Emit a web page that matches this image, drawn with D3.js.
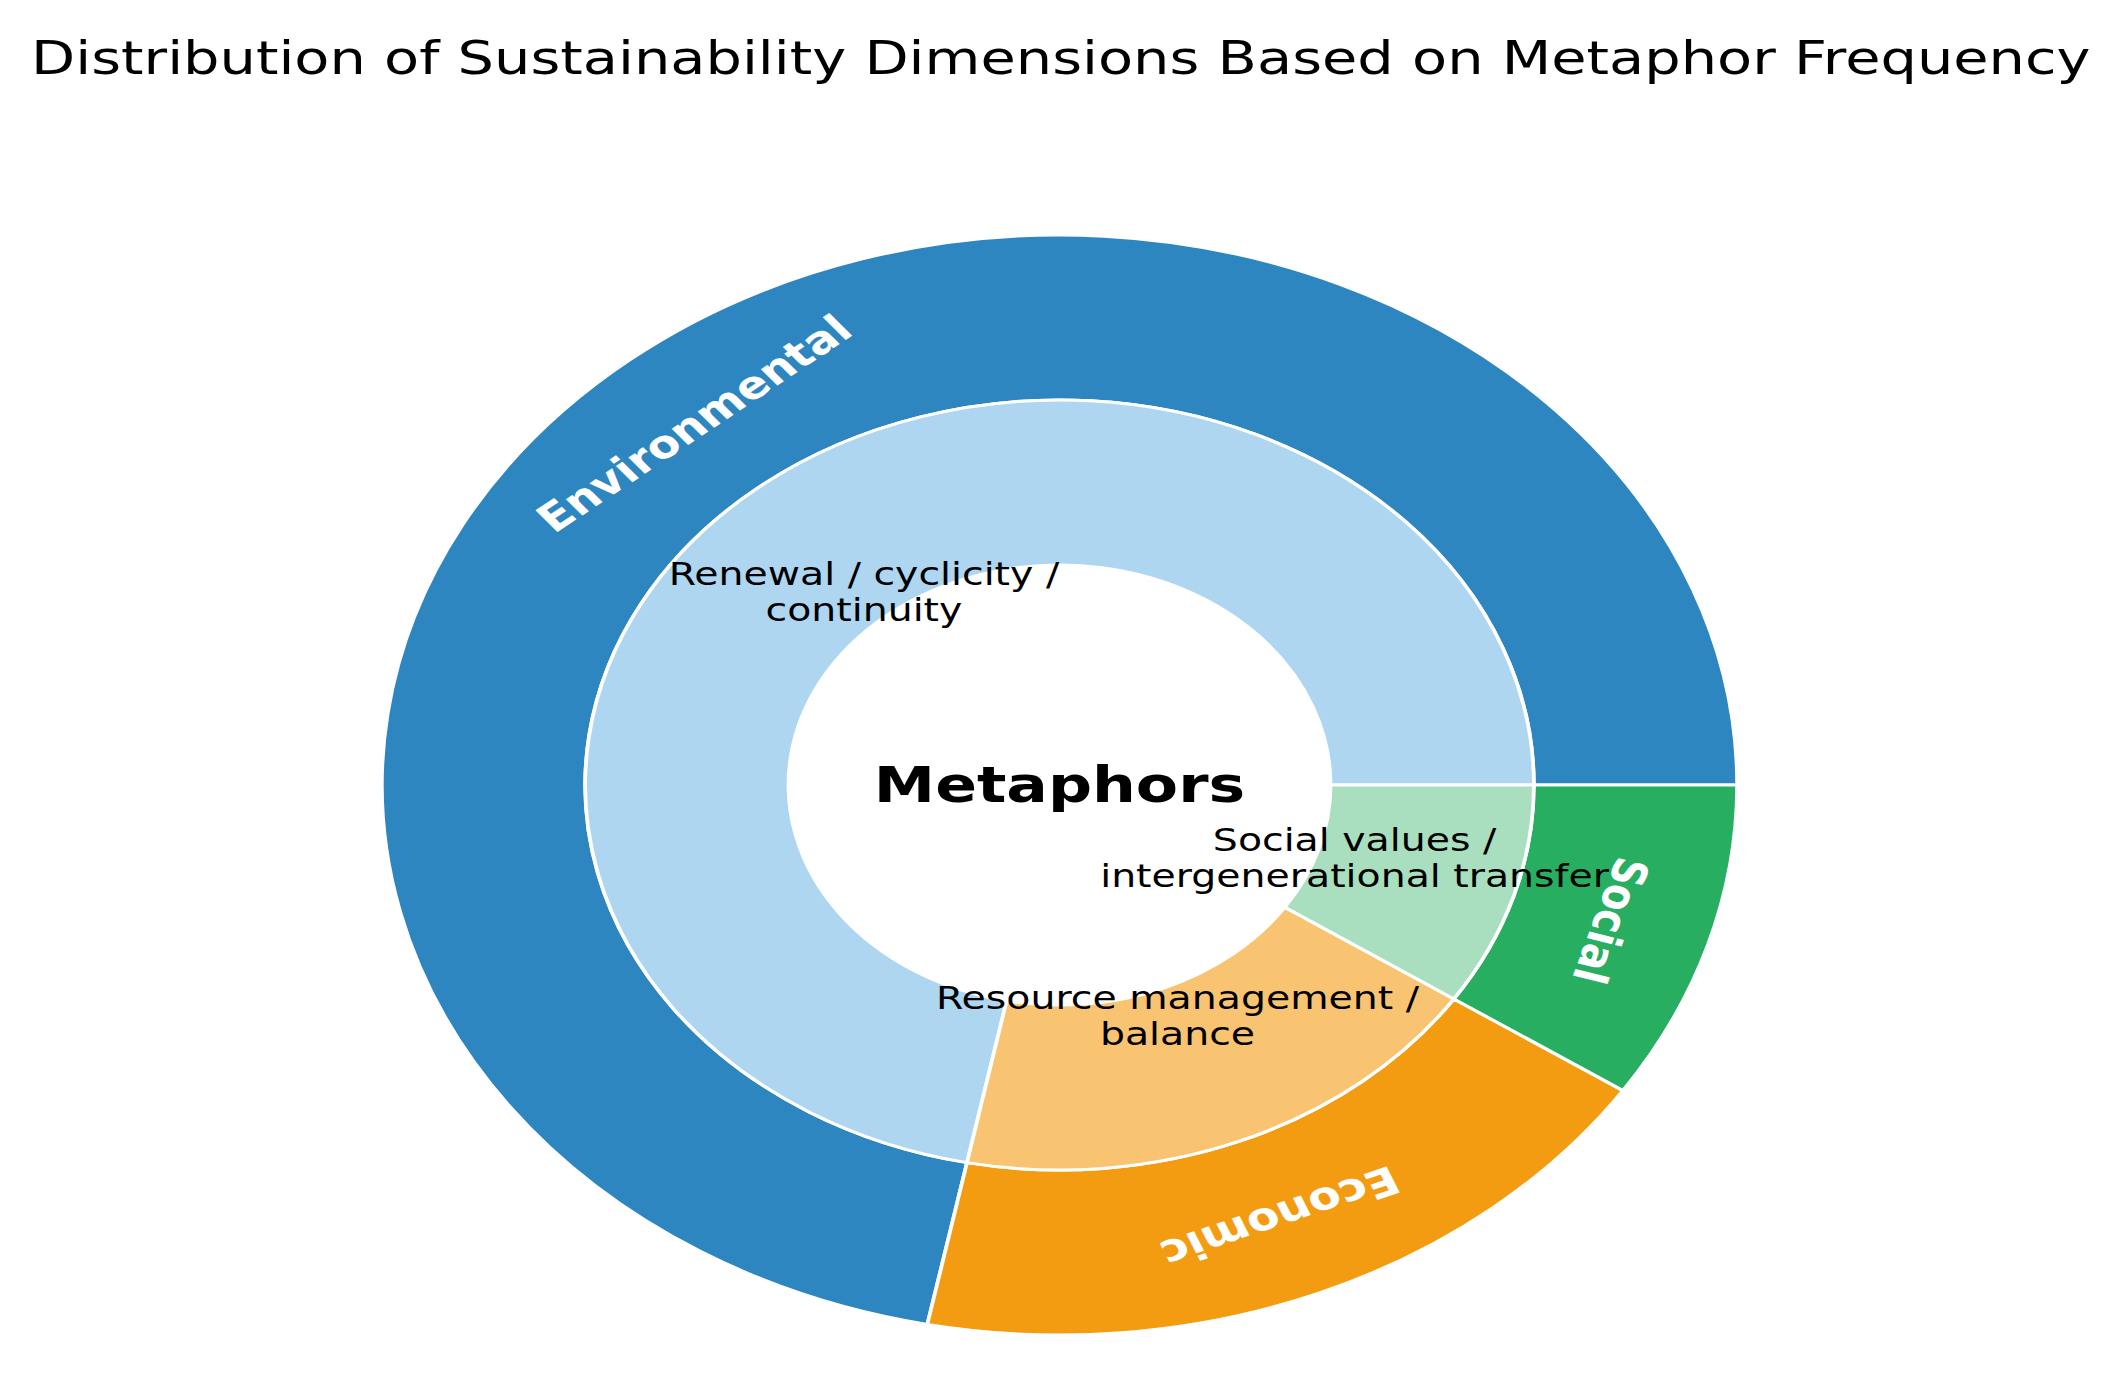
<!DOCTYPE html>
<html>
<head>
<meta charset="utf-8">
<script src="https://cdn.jsdelivr.net/npm/d3@7"></script>
<style>
  body { margin: 0; background: #fff; }
  svg { display: block; }
</style>
</head>
<body>
<svg id="chart"></svg>
<script>
const dimensions = ["Environmental", "Economic", "Social"];
const dimensionCounts = [23, 6, 3];
const dimensionColors = ["#2e86c1", "#f39c12", "#27ae60"];

const metaphors = [
  ["Renewal / cyclicity /", "continuity"],
  ["Resource management /", "balance"],
  ["Social values /", "intergenerational transfer"]
];
const metaphorCounts = [23, 6, 3];
const metaphorColors = ["#aed6f1", "#f8c471", "#a9dfbf"];

const title = "Distribution of Sustainability Dimensions Based on Metaphor Frequency";
const centerLabel = "Metaphors";

// the picture is a square-ish figure stretched wide, so draw in unstretched units
const W = 2113, H = 1384;
const stretch = 1.232;
const vbW = W / stretch;
const cx = 860, cy = 785;
const R = 550;

const svg = d3.select("#chart")
  .attr("width", W)
  .attr("height", H)
  .attr("viewBox", `0 0 ${vbW} ${H}`)
  .attr("preserveAspectRatio", "none");

svg.append("text")
  .attr("x", 861)
  .attr("y", 74)
  .attr("text-anchor", "middle")
  .attr("font-family", "DejaVu Sans")
  .attr("font-size", 46.6)
  .attr("fill", "#000")
  .text(title);

const g = svg.append("g").attr("transform", `translate(${cx},${cy})`);

// matplotlib style: start at 3 o'clock, counter-clockwise
const pie = d3.pie().sort(null)
  .startAngle(Math.PI / 2)
  .endAngle(Math.PI / 2 - 2 * Math.PI);

const outerArcs = pie(dimensionCounts);
const innerArcs = pie(metaphorCounts);

const outerArc = d3.arc().innerRadius(R * 0.7).outerRadius(R);
const innerArc = d3.arc().innerRadius(R * 0.4).outerRadius(R * 0.7);

g.selectAll("path.outer")
  .data(outerArcs)
  .join("path")
  .attr("class", "outer")
  .attr("d", outerArc)
  .attr("fill", (d, i) => dimensionColors[i])
  .attr("stroke", "#fff")
  .attr("stroke-width", 3);

g.selectAll("path.inner")
  .data(innerArcs)
  .join("path")
  .attr("class", "inner")
  .attr("d", innerArc)
  .attr("fill", (d, i) => metaphorColors[i])
  .attr("stroke", "#fff")
  .attr("stroke-width", 3);

// mid angle in matplotlib degrees (ccw from +x)
function midDeg(d) {
  const a = (d.startAngle + d.endAngle) / 2;
  return 90 - a * 180 / Math.PI;
}
function polar(r, deg) {
  const t = deg * Math.PI / 180;
  return [r * Math.cos(t), -r * Math.sin(t)];
}

g.selectAll("text.outer")
  .data(outerArcs)
  .join("text")
  .attr("class", "outer")
  .attr("transform", d => {
    const m = midDeg(d);
    const p = polar(R * 0.85, m);
    return `translate(${p[0]},${p[1]}) rotate(${-(m - 90)})`;
  })
  .attr("text-anchor", "middle")
  .attr("dominant-baseline", "central")
  .attr("font-family", "DejaVu Sans")
  .attr("font-weight", "bold")
  .attr("font-size", 38.5)
  .attr("fill", "#fff")
  .text((d, i) => dimensions[i]);

const lineGap = 36;
const innerLabels = g.selectAll("text.inner")
  .data(innerArcs)
  .join("text")
  .attr("class", "inner")
  .attr("transform", d => {
    const p = polar(R * 0.7 * 0.65, midDeg(d));
    return `translate(${p[0]},${p[1]})`;
  })
  .attr("text-anchor", "middle")
  .attr("font-family", "DejaVu Sans")
  .attr("font-size", 32)
  .attr("fill", "#000");

innerLabels.selectAll("tspan")
  .data((d, i) => metaphors[i])
  .join("tspan")
  .attr("x", 0)
  .attr("y", (d, j, nodes) => (j - (nodes.length - 1) / 2) * lineGap)
  .attr("dominant-baseline", "central")
  .text(d => d);

g.append("text")
  .attr("x", 0)
  .attr("y", 0)
  .attr("text-anchor", "middle")
  .attr("dominant-baseline", "central")
  .attr("font-family", "DejaVu Sans")
  .attr("font-weight", "bold")
  .attr("font-size", 50)
  .attr("fill", "#000")
  .text(centerLabel);
</script>
</body>
</html>
